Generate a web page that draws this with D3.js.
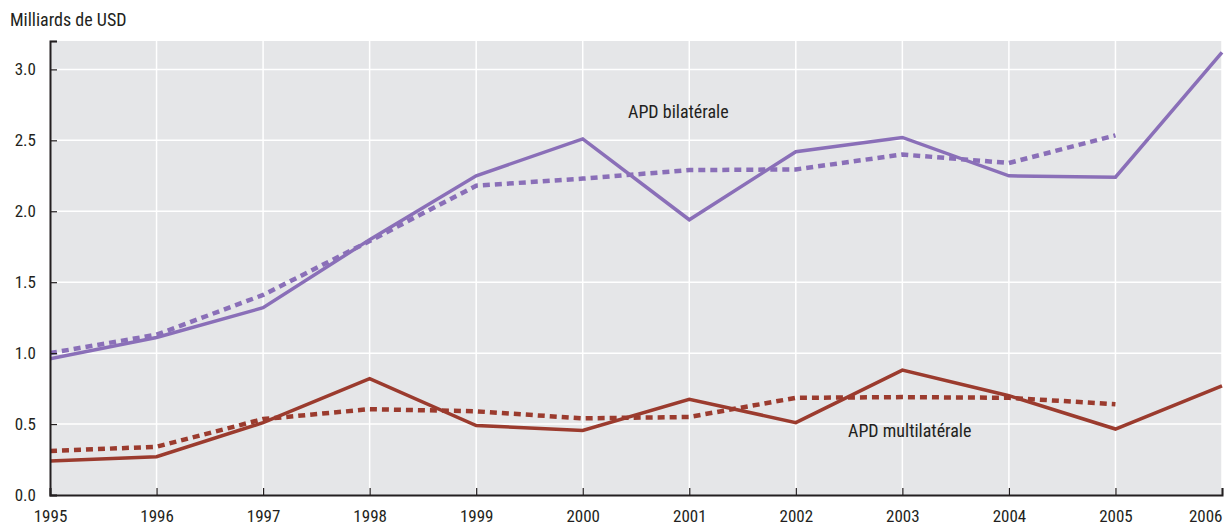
<!DOCTYPE html>
<html lang="fr">
<head>
  <meta charset="utf-8">
  <title>APD bilatérale et multilatérale</title>
  <script src="https://d3js.org/d3.v7.min.js"></script>
  <style>
    body { margin: 0; background: white; }
    text { font-family: "Liberation Sans Narrow", "Roboto Condensed", "Liberation Sans", sans-serif; fill: #231f20; }
  </style>
</head>
<body>
<svg id="chart" width="1224" height="526"></svg>
<script>
  // years and series (milliards de USD)
  var years = [1995, 1996, 1997, 1998, 1999, 2000, 2001, 2002, 2003, 2004, 2005, 2006];
  var bilateral = [0.96, 1.11, 1.32, 1.80, 2.25, 2.51, 1.94, 2.42, 2.52, 2.25, 2.24, 3.12];
  var bilateralDash = [1.00, 1.13, 1.41, 1.79, 2.18, 2.23, 2.29, 2.295, 2.40, 2.34, 2.535];
  var multilateral = [0.24, 0.27, 0.51, 0.82, 0.49, 0.455, 0.675, 0.51, 0.88, 0.70, 0.465, 0.77];
  var multilateralDash = [0.31, 0.34, 0.535, 0.605, 0.59, 0.54, 0.55, 0.685, 0.69, 0.685, 0.64];
  var yTicks = [0, 0.5, 1.0, 1.5, 2.0, 2.5, 3.0];

  var svg = d3.select("#chart"),
      plotL = 50, plotR = 1222, plotT = 41, plotB = 495;

  var x = d3.scaleLinear().domain([1995, 2006]).range([plotL, plotR]),
      y = d3.scaleLinear().domain([0, 3.2]).range([plotB, plotT]);

  svg.append("rect")
     .attr("x", plotL).attr("y", plotT)
     .attr("width", plotR - plotL).attr("height", plotB - plotT)
     .attr("fill", "#e5e6e8");

  // grid
  svg.append("g").selectAll("line")
     .data(yTicks.slice(1))
     .enter().append("line")
     .attr("x1", plotL).attr("x2", plotR)
     .attr("y1", function(d) { return y(d); })
     .attr("y2", function(d) { return y(d); })
     .attr("stroke", "white").attr("stroke-width", 1.5);

  svg.append("g").selectAll("line")
     .data(years.slice(1))
     .enter().append("line")
     .attr("x1", function(d) { return x(d); })
     .attr("x2", function(d) { return x(d); })
     .attr("y1", plotT).attr("y2", plotB)
     .attr("stroke", "white").attr("stroke-width", 1.5);

  // lines
  var line = d3.line()
     .x(function(d, i) { return x(years[i]); })
     .y(function(d) { return y(d); });

  var series = [
    { values: multilateralDash, color: "#9b3b2e", dash: "7,5", w: 4.5 },
    { values: multilateral, color: "#9b3b2e", dash: null, w: 3.5 },
    { values: bilateralDash, color: "#8a6fb8", dash: "7,5", w: 4.5 },
    { values: bilateral, color: "#8a6fb8", dash: null, w: 3.5 }
  ];

  svg.append("defs").append("clipPath").attr("id", "clip")
     .append("rect").attr("x", plotL).attr("y", plotT - 5)
     .attr("width", plotR - plotL + 2).attr("height", plotB - plotT + 5);

  svg.append("g").attr("clip-path", "url(#clip)")
     .selectAll("path")
     .data(series)
     .enter().append("path")
     .attr("d", function(d) { return line(d.values); })
     .attr("fill", "none")
     .attr("stroke", function(d) { return d.color; })
     .attr("stroke-width", function(d) { return d.w; })
     .attr("stroke-dasharray", function(d) { return d.dash; });

  // axes
  var yAxis = svg.append("g")
     .attr("transform", "translate(" + plotL + ",0)")
     .call(d3.axisRight(y).tickValues(yTicks.concat([3.2])).tickSize(7)
       .tickFormat(function(d) { return d === 3.2 ? "" : d3.format(".1f")(d); }));
  yAxis.select(".domain").attr("stroke", "#231f20").attr("stroke-width", 2);
  yAxis.selectAll(".tick line").attr("stroke", "#231f20").attr("stroke-width", 1.2);
  yAxis.selectAll(".tick text")
     .attr("x", -14).attr("text-anchor", "end")
     .attr("font-size", "17px").attr("fill", "#231f20");

  var xAxis = svg.append("g")
     .attr("transform", "translate(0," + plotB + ")")
     .call(d3.axisTop(x).tickValues(years).tickSize(7).tickFormat(d3.format("d")));
  xAxis.select(".domain").attr("stroke", "#231f20").attr("stroke-width", 2);
  xAxis.selectAll(".tick line").attr("stroke", "#231f20").attr("stroke-width", 1.2);
  xAxis.selectAll(".tick text")
     .attr("y", 21).attr("dy", "0.35em")
     .attr("font-size", "17px").attr("fill", "#231f20")
     .attr("text-anchor", function(d) { return d === 2006 ? "end" : "middle"; });

  svg.append("text")
     .attr("x", 10).attr("y", 26)
     .attr("font-size", "18px")
     .text("Milliards de USD");

  svg.append("text")
     .attr("x", 628).attr("y", 118)
     .attr("font-size", "18px")
     .text("APD bilatérale");

  svg.append("text")
     .attr("x", 848).attr("y", 437)
     .attr("font-size", "18px")
     .text("APD multilatérale");
</script>
</body>
</html>
